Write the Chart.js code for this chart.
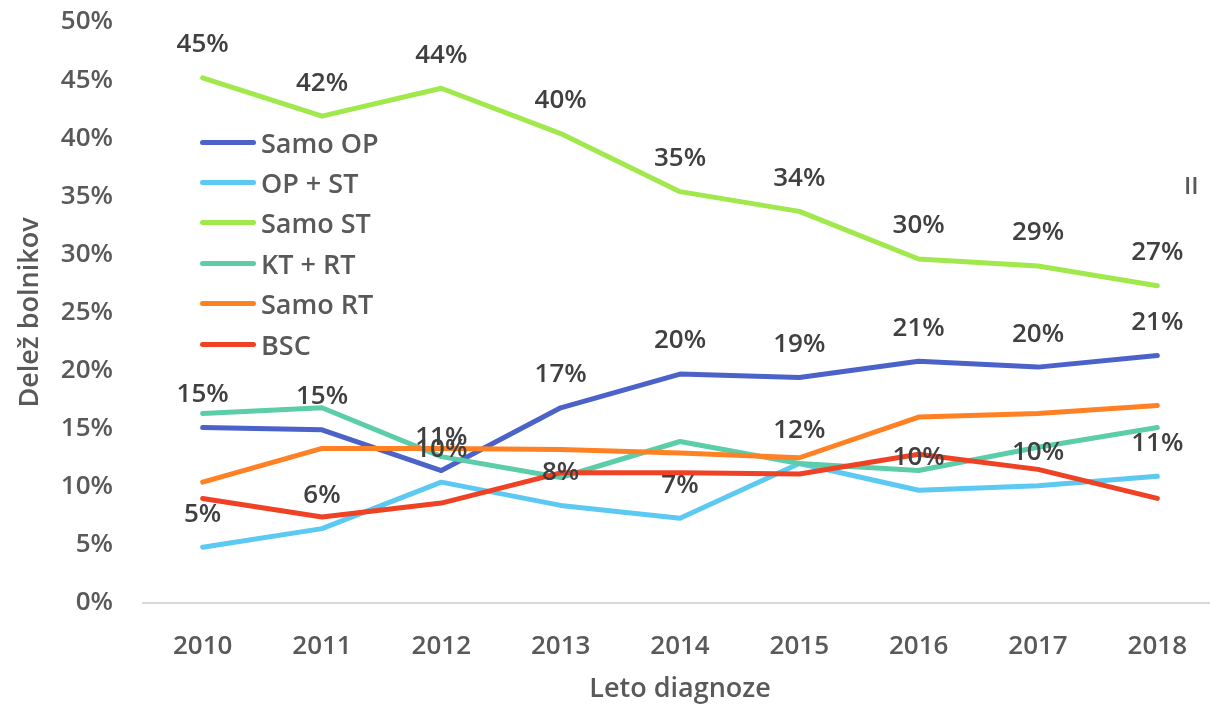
<!DOCTYPE html>
<html>
<head>
<meta charset="utf-8">
<script src="https://cdn.jsdelivr.net/npm/chart.js@4"></script>
<style>
  html, body { margin: 0; padding: 0; background: #fff; overflow: hidden; }
  #wrap { position: relative; width: 1210px; height: 708px; overflow: hidden; }
  #box { position: absolute; left: 0; top: 0; width: 1232px; height: 708px; }
  #legend { position: absolute; left: 200px; top: 122px; font: 600 27px "Open Sans", sans-serif; color: #595959; }
  .row { display: flex; align-items: center; height: 40.4px; }
  .swatch { display: inline-block; width: 56px; height: 5px; border-radius: 3px; margin-right: 5px; }
  #mark { position: absolute; left: 1184px; top: 168px; font: 600 24px "Open Sans", sans-serif; color: #595959; }
</style>
</head>
<body>
<div id="wrap">
  <div id="box"><canvas id="chart"></canvas></div>
  <div id="legend"></div>
  <div id="mark">II</div>
</div>
<script>
const years = ["2010", "2011", "2012", "2013", "2014", "2015", "2016", "2017", "2018"];
const yTicks = [0, 5, 10, 15, 20, 25, 30, 35, 40, 45, 50];

const samoOP = [15.1, 14.9, 11.4, 16.8, 19.7, 19.4, 20.8, 20.3, 21.3];
const opST = [4.8, 6.4, 10.4, 8.4, 7.3, 12.0, 9.7, 10.1, 10.9];
const samoST = [45.2, 41.9, 44.3, 40.4, 35.4, 33.7, 29.6, 29.0, 27.3];
const ktRT = [16.3, 16.8, 12.6, 10.8, 13.9, 12.0, 11.4, 13.4, 15.1];
const samoRT = [10.4, 13.3, 13.3, 13.2, 12.9, 12.5, 16.0, 16.3, 17.0];
const bsc = [9.0, 7.4, 8.6, 11.2, 11.2, 11.1, 12.8, 11.5, 9.0];

const series = [
  { label: "Samo OP", data: samoOP, color: "#4b62c9", labels: true },
  { label: "OP + ST", data: opST, color: "#5cc9f2", labels: true },
  { label: "Samo ST", data: samoST, color: "#a0e84c", labels: true },
  { label: "KT + RT", data: ktRT, color: "#5bcda9", labels: false },
  { label: "Samo RT", data: samoRT, color: "#ff8124", labels: false },
  { label: "BSC", data: bsc, color: "#ef4124", labels: false }
];

const legend = document.getElementById("legend");
series.forEach((s) => {
  const row = document.createElement("div");
  row.className = "row";
  row.innerHTML = `<span class="swatch" style="background:${s.color}"></span>${s.label}`;
  legend.appendChild(row);
});

// value labels above points (no datalabels plugin available)
const pointLabels = {
  id: "pointLabels",
  afterDatasetsDraw(chart) {
    const ctx = chart.ctx;
    ctx.save();
    ctx.font = '600 26px "Open Sans", sans-serif';
    ctx.fillStyle = "#404040";
    ctx.textAlign = "center";
    ctx.textBaseline = "middle";
    chart.data.datasets.forEach((ds, i) => {
      if (!ds.showLabels) return;
      chart.getDatasetMeta(i).data.forEach((pt, j) => {
        ctx.fillText(Math.round(ds.data[j]) + "%", pt.x, pt.y - 33);
      });
    });
    ctx.restore();
  }
};

const font = { family: '"Open Sans", sans-serif', size: 26, weight: "600" };

new Chart(document.getElementById("chart"), {
  type: "line",
  data: {
    labels: years,
    datasets: series.map((s, i) => ({
      label: s.label,
      data: s.data,
      borderColor: s.color,
      backgroundColor: s.color,
      borderWidth: 5,
      pointRadius: 0,
      tension: 0,
      borderCapStyle: "round",
      borderJoinStyle: "round",
      order: series.length - i,
      showLabels: s.labels
    }))
  },
  options: {
    responsive: true,
    maintainAspectRatio: false,
    animation: false,
    layout: { padding: { top: 22, right: 15, bottom: 0, left: 0 } },
    plugins: { legend: { display: false }, tooltip: { enabled: false } },
    scales: {
      x: {
        offset: true,
        grid: { display: false, drawTicks: false },
        border: { display: true, color: "#d9d9d9", width: 2 },
        ticks: { color: "#595959", font: font, padding: 28, maxRotation: 0 },
        title: { display: true, text: "Leto diagnoze", color: "#595959", font: { ...font, size: 27 }, padding: { top: 0, bottom: 2 } },
        afterFit(scale) {
          scale.height = 105;
          scale.paddingLeft = 0;
          scale.paddingRight = 0;
        }
      },
      y: {
        min: 0,
        max: 50,
        afterBuildTicks(scale) { scale.ticks = yTicks.map((v) => ({ value: v })); },
        grid: { display: false, drawTicks: false },
        border: { display: false },
        ticks: { color: "#595959", font: font, padding: 30, callback: (v) => v + "%" },
        title: { display: true, text: "Delež bolnikov", color: "#595959", font: { ...font, size: 27 }, padding: { top: 14, bottom: 0 } },
        afterFit(scale) {
          scale.width = 143;
          scale.paddingTop = 0;
          scale.paddingBottom = 0;
        }
      }
    }
  },
  plugins: [pointLabels]
});
</script>
</body>
</html>
